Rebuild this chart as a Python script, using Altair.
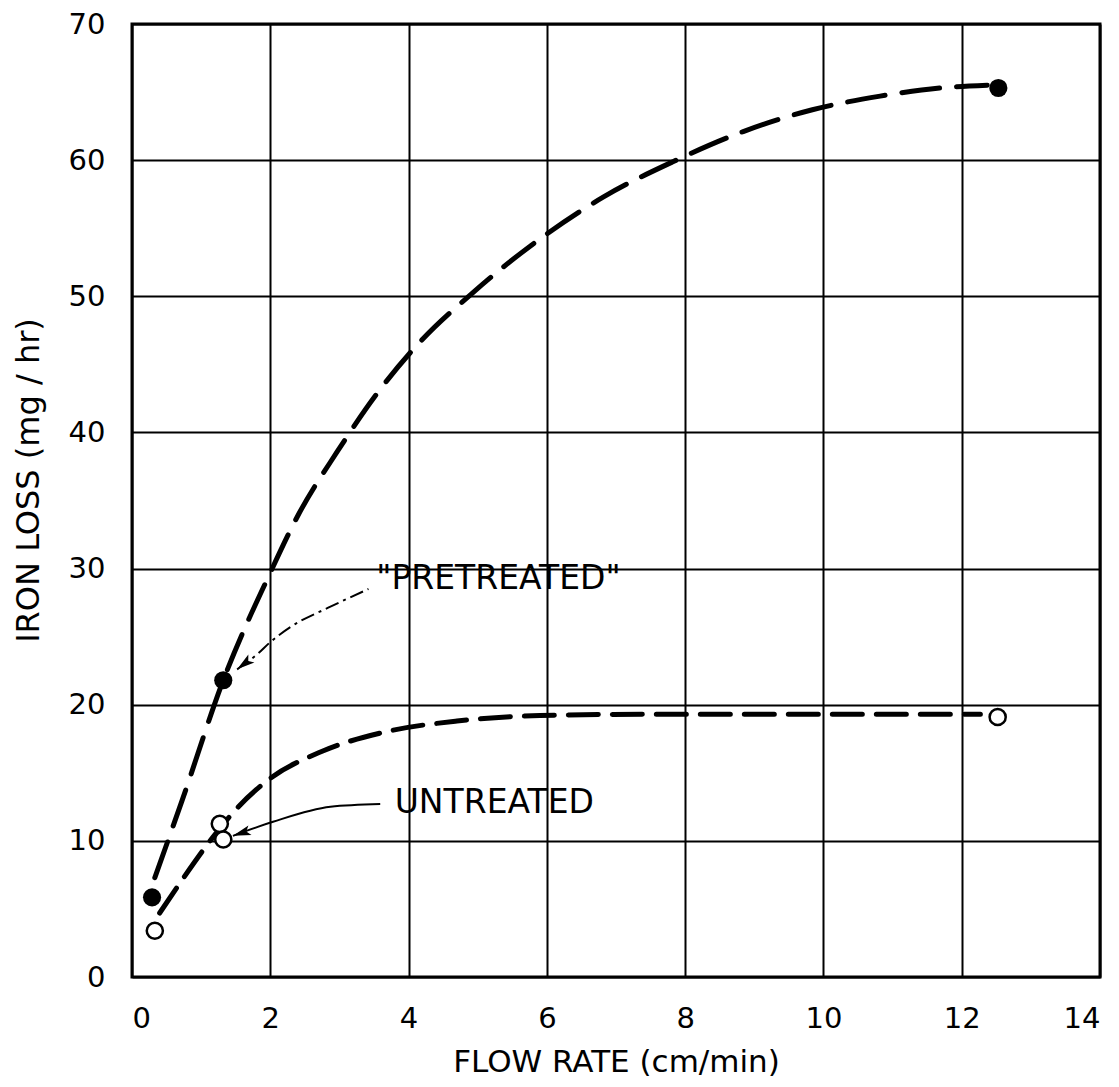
import altair as alt
import pandas as pd

# ---- data ----
# measured points
pre_x = [0.29, 1.32, 12.53]
pre_y = [5.85, 21.8, 65.3]
unt_x = [0.33, 1.27, 1.32, 12.52]
unt_y = [3.4, 11.25, 10.1, 19.1]

# hand-drawn dashed curves
pre_curve_x = [0.33, 0.72, 1.32, 2.0, 2.4, 2.97, 3.55, 4.12, 4.96, 5.95, 6.82, 7.83, 8.84, 9.84, 10.82, 11.69, 12.37]
pre_curve_y = [7.3, 12.9, 21.8, 29.7, 33.9, 38.6, 42.9, 46.4, 50.4, 54.4, 57.3, 59.9, 62.1, 63.7, 64.7, 65.3, 65.5]
unt_curve_x = [0.4, 0.72, 1.16, 1.52, 1.95, 2.76, 3.66, 4.7, 5.9, 7.5, 10.0, 12.27]
unt_curve_y = [4.7, 7.1, 10.2, 12.4, 14.4, 16.6, 18.0, 18.8, 19.2, 19.3, 19.3, 19.3]

# annotation arrows
pre_arrow_x = [3.42, 2.87, 2.29, 2.0, 1.81, 1.52]
pre_arrow_y = [28.5, 27.2, 25.7, 24.6, 23.7, 22.6]
unt_arrow_x = [3.59, 2.87, 2.04, 1.46]
unt_arrow_y = [12.7, 12.5, 11.4, 10.37]
head_x = [1.52, 1.46]
head_y = [22.6, 10.37]
head_angle = [233, 252]

label_text = ['"PRETREATED"', "UNTREATED"]
label_x = [5.3, 5.24]
label_y = [29.2, 12.8]

x_ticks = [0, 2, 4, 6, 8, 10, 12, 14]
y_ticks = [0, 10, 20, 30, 40, 50, 60, 70]

FONT = "DejaVu Sans"

xs = alt.Scale(domain=[0, 14], nice=False)
ys = alt.Scale(domain=[0, 70], nice=False)

common_axis = dict(grid=True, ticks=False, tickSize=0, domain=False, labelPadding=27,
                   labelFont=FONT, titleFont=FONT, labelColor="black", titleColor="black",
                   gridColor="black", gridWidth=2, gridOpacity=1,
                   labelFontSize=29, titleFontWeight="normal")

X = alt.X("x:Q", scale=xs,
          axis=alt.Axis(values=x_ticks, title="FLOW RATE (cm/min)", titleFontSize=31,
                        titleY=85, titleBaseline="middle", titleX=484, **common_axis))
Y = alt.Y("y:Q", scale=ys,
          axis=alt.Axis(values=y_ticks, title="IRON LOSS (mg / hr)", titleFontSize=32,
                        titleX=-104, titleY=456, titleBaseline="middle", titleAngle=-90,
                        **common_axis))

pre_curve = pd.DataFrame({"x": pre_curve_x, "y": pre_curve_y})
unt_curve = pd.DataFrame({"x": unt_curve_x, "y": unt_curve_y})
pre_pts = pd.DataFrame({"x": pre_x, "y": pre_y})
unt_pts = pd.DataFrame({"x": unt_x, "y": unt_y})
pre_arrow = pd.DataFrame({"x": pre_arrow_x, "y": pre_arrow_y})
unt_arrow = pd.DataFrame({"x": unt_arrow_x, "y": unt_arrow_y})
heads = pd.DataFrame({"x": head_x, "y": head_y, "a": head_angle})
labels = pd.DataFrame({"x": label_x, "y": label_y, "t": label_text})

l_pre = alt.Chart(pre_curve).mark_line(
    color="black", strokeWidth=5, strokeDash=[38, 17], interpolate="monotone", strokeCap="round"
).encode(x=X, y=Y)
l_unt = alt.Chart(unt_curve).mark_line(
    color="black", strokeWidth=5, strokeDash=[30, 14], interpolate="monotone", strokeCap="round"
).encode(x=X, y=Y)

p_pre = alt.Chart(pre_pts).mark_point(
    shape="circle", filled=True, color="black", size=330, opacity=1
).encode(x=X, y=Y)
p_unt = alt.Chart(unt_pts).mark_point(
    shape="circle", filled=True, fill="white", stroke="black", strokeWidth=2.5, size=260, opacity=1
).encode(x=X, y=Y)

a_pre = alt.Chart(pre_arrow).mark_line(
    color="black", strokeWidth=2, strokeDash=[14, 5, 3, 5], interpolate="monotone"
).encode(x=X, y=Y)
a_unt = alt.Chart(unt_arrow).mark_line(
    color="black", strokeWidth=2, interpolate="monotone"
).encode(x=X, y=Y)
a_heads = alt.Chart(heads).mark_point(
    shape="M0,0 L-0.45,1.6 L0,1.25 L0.45,1.6 Z", filled=True, color="black", size=500, opacity=1
).encode(x=X, y=Y, angle=alt.Angle("a:Q", scale=None))

t_lab = alt.Chart(labels).mark_text(
    font=FONT, fontSize=33, color="black", align="center", baseline="middle"
).encode(x=X, y=Y, text="t:N")

chart = alt.layer(l_pre, l_unt, a_pre, a_unt, a_heads, p_pre, p_unt, t_lab).properties(
    width=968, height=953,
    padding={"left": 124, "top": 16, "right": 11, "bottom": 100},
    autosize=alt.AutoSizeParams(type="none"),
    background="white",
).configure_view(
    stroke="black", strokeWidth=3, fill="white"
)

chart.save("out.html", embed_options={"renderer": "svg", "actions": False})
